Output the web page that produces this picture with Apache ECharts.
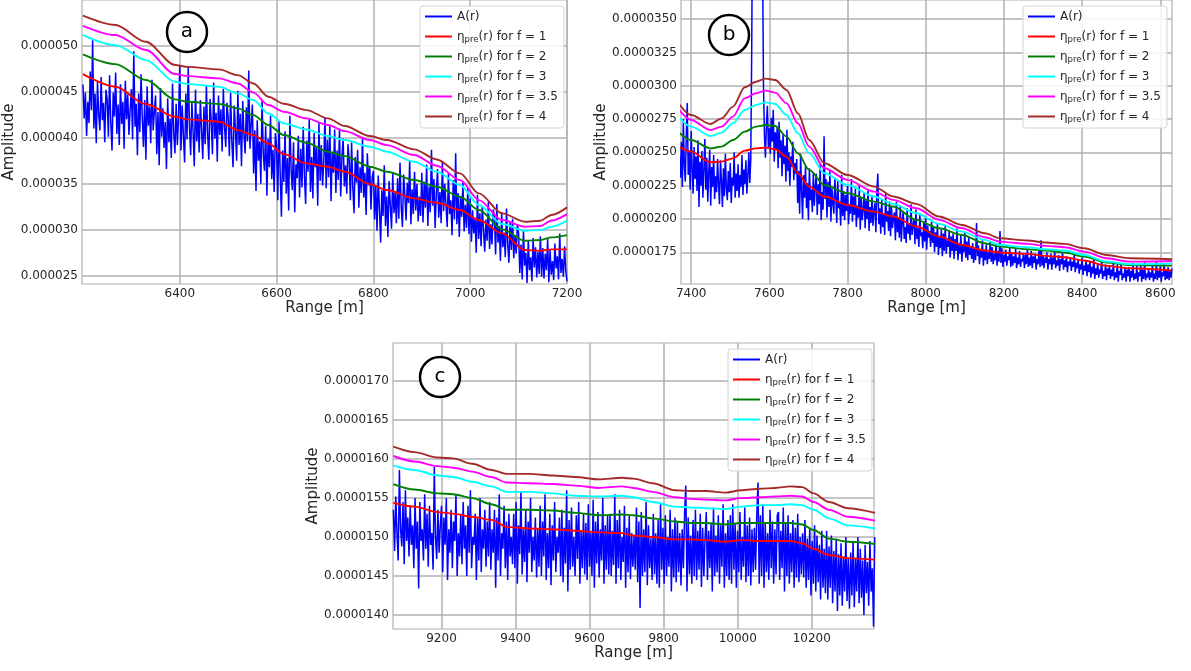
<!DOCTYPE html>
<html><head><meta charset="utf-8">
<script src="https://cdn.jsdelivr.net/npm/echarts@6/dist/echarts.min.js"></script>
<style>html,body{margin:0;padding:0;background:#fff}#c{width:1191px;height:671px}</style>
</head><body><div id="c"></div>
<script>
// All amplitudes in units of 1e-6
// ---------- panel a ----------
const aStart = 6200, aStep = 2.5;
const aSignal = [
45.8,42.1,44.9,40.2,43.9,41.6,47.2,43.0,50.6,41.0,44.8,39.4,46.1,42.5,40.8,46.6,41.9,43.8,39.5,45.2,
44.2,40.1,46.8,41.7,38.6,44.9,42.3,47.1,40.4,43.6,39.2,45.8,41.5,43.9,38.8,46.2,42.0,44.7,40.3,43.1,
45.3,39.8,49.4,41.2,43.7,38.1,44.8,40.6,46.9,42.2,39.0,44.1,37.6,45.6,41.3,43.4,39.4,46.3,40.8,42.9,
44.6,38.2,42.8,37.0,45.4,40.1,43.2,38.9,41.7,36.6,44.3,39.5,42.1,37.8,45.9,40.6,38.3,43.7,39.2,42.4,
47.9,38.6,43.5,40.2,37.3,44.8,39.8,47.8,41.3,38.1,43.9,40.7,36.9,45.2,39.6,42.6,38.4,44.1,40.9,37.7,
43.4,39.3,45.7,40.5,37.6,44.2,41.8,38.2,46.0,39.9,42.7,37.4,44.6,40.3,43.1,38.5,45.3,41.2,39.0,43.8,
42.2,38.0,44.9,39.7,36.8,43.5,40.9,37.5,45.1,39.2,42.6,36.9,44.0,40.4,38.3,43.3,39.6,47.3,38.8,41.5,
43.6,36.1,40.8,34.2,41.9,37.5,39.6,35.0,44.1,38.2,36.4,41.3,33.7,39.9,36.8,42.4,35.5,38.7,34.1,40.5,
39.1,33.2,41.8,36.0,31.4,38.6,35.2,40.7,33.9,37.8,32.1,42.4,36.5,34.3,39.5,31.9,37.1,35.6,40.2,33.5,
38.8,34.6,41.2,35.9,32.8,39.7,36.3,42.0,34.1,37.9,33.4,40.5,36.8,38.9,32.6,41.6,35.3,39.2,34.8,37.4,
42.2,34.5,39.8,35.7,41.4,33.1,38.4,36.2,40.9,34.0,38.6,35.4,41.0,33.6,37.8,39.9,34.7,37.0,33.9,39.3,
37.6,33.2,39.5,34.6,31.8,37.9,35.1,38.7,32.4,36.8,34.0,40.1,33.5,36.2,31.6,38.3,34.8,36.9,32.2,35.7,
36.4,31.1,34.8,29.9,35.9,32.2,28.6,34.3,31.5,37.0,30.4,33.6,29.2,35.3,32.6,30.1,36.1,31.8,34.0,30.7,
35.6,31.2,37.3,32.5,30.3,36.0,33.8,31.0,35.1,32.9,37.5,30.6,34.4,31.7,36.3,32.1,35.0,30.9,33.6,31.5,
36.2,30.8,35.2,32.4,37.1,30.4,34.7,31.9,38.7,32.6,35.5,30.2,33.9,36.6,31.3,34.1,30.7,37.4,32.0,35.0,
34.8,30.3,36.1,31.7,33.2,29.4,35.4,31.1,38.3,30.6,34.0,29.2,33.6,31.4,35.2,29.8,32.7,30.2,34.5,29.5,
33.4,28.7,32.1,29.6,31.3,27.5,33.8,29.0,31.8,28.2,32.6,29.9,27.6,31.1,28.8,33.0,27.9,30.6,28.4,32.2,
31.5,27.3,32.8,28.6,30.4,26.6,31.9,28.1,29.7,27.0,32.3,28.4,26.4,30.9,27.8,31.2,26.9,29.4,27.4,30.6,
29.6,25.3,28.4,24.6,29.9,26.1,27.5,24.2,28.8,25.6,27.0,24.4,29.1,25.9,28.1,24.8,27.6,25.2,29.3,24.9,
28.0,24.7,27.4,25.6,29.0,24.3,27.8,25.1,26.6,24.5,28.5,25.8,27.1,24.6,29.6,25.3,26.8,24.9,28.2,25.5,
24.4];
const aRanges = [6200,6267,6330,6390,6417,6481,6520,6552,6583,6615,6662,6706,6741,6793,6828,6884,6931,6979,7018,7066,7113,7145,7168,7200];
const aF1  = [46.92,45.54,43.66,42.28,41.99,41.74,40.83,40.29,39.38,38.22,37.21,36.85,36.3,34.96,34.31,33.41,32.93,32.14,31.05,29.6,27.79,27.72,27.86,27.86];
const aF2  = [49.06,48.0,46.27,44.17,43.91,43.66,43.19,42.46,41.38,40.29,39.46,38.48,38.0,36.85,36.3,35.4,34.67,33.59,32.14,30.04,28.8,28.88,29.17,29.42];
const aF3  = [51.16,50.07,48.44,46.09,45.83,45.54,44.82,44.1,42.64,41.56,40.9,40.18,39.75,39.02,38.48,37.39,36.3,34.86,32.68,30.62,29.89,29.96,30.33,30.98];
const aF35 = [52.17,51.16,49.53,46.92,46.7,46.45,45.9,44.9,43.55,42.83,42.1,41.38,40.72,39.75,39.2,38.12,36.96,35.4,33.22,31.05,30.33,30.4,31.0,31.7];
const aF4  = [53.26,52.25,50.43,47.9,47.7,47.43,46.8,45.9,44.46,43.7,43.0,42.1,41.27,40.18,39.75,38.73,37.64,36.12,33.95,31.78,30.87,30.98,31.6,32.43];
const aXTicks = [6400,6600,6800,7000,7200];
const aYTicks = [25,30,35,40,45,50];

// ---------- panel b ----------
const bStart = 7370, bStep = 2.5;
const bSignal = [
24.6,23.1,25.8,22.4,27.5,24.0,22.8,26.2,28.7,23.3,25.1,22.2,26.6,23.8,21.9,25.4,23.0,24.7,22.1,25.9,
20.9,24.3,22.5,25.1,21.6,23.7,26.0,22.2,24.6,21.3,23.5,25.2,21.0,23.9,22.4,24.8,21.5,23.2,22.0,24.5,
22.6,21.1,24.4,22.9,20.9,23.8,21.7,24.9,22.3,21.4,23.6,22.0,24.2,21.2,23.1,22.5,25.0,21.6,23.4,22.1,
24.1,21.6,23.3,22.4,24.8,21.8,23.7,22.6,24.4,21.9,23.2,25.0,22.7,24.5,33.0,48.0,60.0,68.0,72.0,66.0,
70.0,64.0,58.0,52.0,46.0,40.0,30.0,26.2,24.6,27.1,28.5,25.4,26.8,24.9,27.6,25.8,28.2,24.3,26.5,25.2,
26.9,23.8,27.3,24.6,25.9,23.2,26.4,24.1,25.5,22.8,26.7,23.6,25.0,22.5,24.7,23.9,25.8,22.9,24.2,23.4,
24.5,21.2,23.6,20.4,24.9,22.1,20.0,23.3,21.6,24.0,20.8,22.7,19.9,23.8,21.4,22.2,20.5,23.5,21.0,22.4,
23.4,20.3,22.6,21.1,24.1,19.9,22.0,20.7,26.2,21.5,23.0,20.1,22.8,20.9,23.6,19.8,22.3,21.2,20.4,23.1,
21.6,19.7,22.9,20.8,21.3,19.5,23.3,20.2,22.1,19.9,21.8,20.6,22.6,19.6,21.1,20.4,23.0,19.8,21.7,20.3,
22.3,19.4,21.0,20.1,22.5,19.2,21.6,19.9,20.7,22.0,19.3,21.4,20.0,22.2,19.1,20.9,19.7,21.8,19.5,20.6,
21.2,19.0,22.1,23.4,19.6,20.8,18.9,21.5,19.4,20.3,18.8,21.9,19.8,20.6,19.1,21.3,18.7,20.9,19.3,20.1,
20.5,18.4,21.3,19.0,20.1,18.6,21.0,18.3,19.8,20.6,18.5,19.4,18.2,20.8,18.9,19.7,18.4,21.1,18.8,19.5,
20.0,18.1,20.7,18.5,19.3,17.9,20.4,18.7,19.0,17.8,19.8,18.3,20.2,17.7,19.5,18.6,19.1,17.9,19.9,18.2,
19.4,17.5,19.0,17.9,19.7,17.3,18.6,17.8,19.2,17.2,18.9,17.6,19.5,17.4,18.4,17.9,19.1,17.1,18.7,17.6,
18.9,17.0,18.5,17.6,19.3,16.9,18.2,17.4,18.8,16.8,18.1,17.5,19.0,17.1,18.3,16.9,18.6,17.3,17.9,17.0,
18.2,16.7,17.8,16.9,19.7,17.2,18.0,16.6,17.6,17.1,18.4,16.5,17.7,16.9,18.1,16.6,17.5,17.0,18.3,16.8,
17.9,16.6,17.4,16.9,18.2,16.5,17.6,16.8,19.1,16.7,17.8,16.4,17.3,16.8,17.7,16.5,17.2,16.9,17.9,16.4,
17.5,16.5,17.2,16.7,17.8,16.3,17.1,16.6,17.6,16.4,17.0,16.8,17.4,16.3,17.3,16.6,17.7,16.4,17.1,16.5,
17.6,16.3,17.2,16.7,17.4,16.2,17.0,16.6,17.7,16.4,18.4,16.5,17.3,16.3,17.1,16.7,17.5,16.2,17.0,16.6,
17.4,16.2,17.1,16.6,17.6,16.3,16.9,16.5,17.3,16.1,17.0,16.6,17.5,16.2,16.9,16.4,17.2,16.0,16.8,16.5,
17.1,16.1,16.8,16.4,17.3,16.0,16.7,16.3,17.0,15.9,16.6,16.2,17.1,15.8,16.5,16.1,16.9,15.7,16.6,16.0,
16.8,15.6,16.4,15.9,17.0,15.5,16.3,15.8,16.7,15.6,16.2,15.9,16.9,15.5,16.1,15.7,16.6,15.4,16.3,15.8,
16.5,15.5,16.2,15.7,16.8,15.4,16.0,15.6,16.6,15.3,16.1,15.8,16.7,15.4,15.9,15.6,16.4,15.3,16.2,15.7,
16.4,15.3,16.1,15.6,16.7,15.4,15.9,15.5,16.5,15.3,16.0,15.7,16.6,15.3,16.2,15.5,16.8,15.4,15.9,15.6,
16.3,15.4,16.0,15.6,16.6,15.3,15.9,15.5,16.8,15.4,16.1,15.6,16.5,15.3,16.0,15.7,16.7,15.4,16.2,15.5,
16.4,15.4,16.1,15.6,16.3];
const bRanges = [7369,7400,7449,7478,7507,7537,7566,7590,7615,7644,7673,7702,7741,7800,7868,7917,7976,8034,8093,8151,8190,8259,8307,8356,8405,8463,8522,8630];
const bF1  = [25.43,25.05,24.25,24.3,24.55,25.13,25.3,25.35,25.23,24.68,23.43,22.43,21.68,21.05,20.55,20.18,19.43,18.68,18.05,17.63,17.48,17.38,17.23,17.13,16.88,16.48,16.3,16.13];
const bF2  = [26.48,25.93,25.3,25.43,25.93,26.55,26.93,27.05,26.98,26.18,24.93,23.68,22.55,21.93,21.3,20.93,19.93,19.3,18.8,18.18,17.93,17.73,17.63,17.48,17.18,16.73,16.55,16.5];
const bF3  = [27.63,26.93,26.23,26.48,27.18,28.18,28.55,28.75,28.63,27.8,26.43,24.93,23.43,22.55,21.68,21.13,20.43,19.63,19.05,18.43,18.05,17.88,17.73,17.63,17.3,16.8,16.6,16.67];
const bF35 = [28.18,27.43,26.68,26.93,27.68,29.05,29.43,29.63,29.48,28.68,27.18,25.43,23.8,22.93,22.05,21.43,20.8,19.93,19.3,18.63,18.3,18.13,17.98,17.88,17.55,17.05,16.8,16.85];
const bF4  = [28.63,27.8,27.13,27.55,28.43,29.88,30.3,30.53,30.43,29.68,27.93,25.93,24.18,23.3,22.43,21.68,21.13,20.18,19.55,18.93,18.55,18.38,18.23,18.13,17.8,17.3,17.05,16.98];
const bXTicks = [7400,7600,7800,8000,8200,8400,8600];
const bYTicks = [17.5,20,22.5,25,27.5,30,32.5,35];

// ---------- panel c ----------
const cStart = 9070, cStep = 3.25;
const cSignal = [
15.35,14.82,15.52,15.05,14.7,15.86,15.1,14.88,15.45,14.65,15.6,14.95,15.25,14.75,15.4,14.9,15.15,14.6,15.5,14.85,
15.2,14.34,15.45,14.95,15.1,14.7,15.55,14.85,15.3,14.62,15.4,14.9,15.05,14.58,15.9,15.0,14.72,15.35,14.8,15.15,
15.4,14.55,15.25,14.9,15.5,14.45,15.1,14.8,15.35,14.6,15.2,14.95,15.55,14.5,15.05,14.75,15.3,14.65,15.45,14.85,
15.15,14.5,15.4,14.8,15.6,14.6,15.0,14.9,15.3,14.45,15.25,14.7,15.5,14.55,15.1,14.85,15.35,14.62,15.2,14.75,
15.45,14.58,15.1,14.8,15.35,14.35,15.25,14.7,15.55,14.5,15.05,14.85,15.4,14.6,15.2,14.45,15.3,14.75,15.0,14.65,
15.3,14.6,15.45,14.4,15.15,14.78,15.58,14.52,15.1,14.68,15.35,14.42,15.2,14.8,15.5,14.55,15.0,14.7,15.25,14.48,
15.1,14.62,15.4,14.5,15.2,14.75,15.55,14.45,15.05,14.6,15.3,14.38,15.15,14.7,15.45,14.55,15.0,14.8,15.25,14.5,
15.35,14.42,15.12,14.66,15.6,14.3,15.22,14.58,15.38,14.62,15.0,14.5,15.28,14.72,15.45,14.4,15.08,14.6,15.3,14.52,
15.18,14.45,15.42,14.62,15.05,14.5,15.48,14.35,15.2,14.66,15.32,14.48,15.1,14.7,15.5,14.4,15.15,14.58,15.28,14.52,
15.3,14.5,15.08,14.64,15.55,14.4,15.22,14.6,15.35,14.45,15.0,14.68,15.4,14.35,15.12,14.55,15.28,14.46,15.05,14.62,
15.02,14.58,15.38,14.42,15.2,14.09,15.32,14.5,15.1,14.55,15.45,14.38,15.15,14.6,14.98,14.45,15.3,14.52,15.05,14.4,
15.22,14.35,15.42,14.58,15.12,14.4,15.28,14.5,15.0,14.62,15.35,14.3,15.1,14.48,15.25,14.42,15.2,14.55,15.05,14.38,
15.1,14.6,15.3,15.66,14.3,15.25,14.52,15.02,14.4,15.22,14.5,15.35,14.45,15.08,14.58,15.3,14.36,15.12,14.5,14.98,
15.32,14.45,15.08,14.6,15.18,14.3,15.38,14.5,15.02,14.55,15.28,14.4,15.15,14.62,15.42,14.35,15.05,14.5,15.22,14.45,
15.28,14.4,15.42,14.58,15.18,14.35,15.08,14.55,15.32,14.45,15.0,14.62,15.38,14.42,15.15,14.5,15.25,14.38,15.1,14.55,
15.12,14.58,15.3,15.7,14.4,15.28,14.5,15.42,14.35,15.18,14.55,15.05,14.45,15.35,14.6,15.2,14.4,15.1,14.52,15.28,
15.32,14.45,15.08,14.6,15.38,14.3,15.18,14.5,15.28,14.4,15.05,14.55,15.22,14.35,15.12,14.48,15.3,14.42,15.0,14.52,
15.05,14.48,15.22,14.35,14.98,14.45,15.12,14.25,14.95,14.4,15.15,14.3,15.02,14.42,14.9,14.2,15.08,14.35,14.85,14.28,
15.08,14.2,14.88,14.35,15.02,14.15,14.82,14.3,14.98,14.05,14.78,14.25,14.92,14.12,14.75,14.3,15.0,14.18,14.72,14.08,
14.8,14.25,14.95,14.1,14.72,14.3,15.0,14.15,14.85,14.22,14.7,14.0,14.9,14.28,14.68,14.12,14.95,14.3,14.6,13.85,
15.0];
const cRanges = [9070,9127,9190,9231,9283,9335,9376,9438,9500,9563,9625,9687,9718,9770,9832,9873,9915,9967,10008,10060,10101,10143,10174,10205,10246,10298,10371];
const cF1  = [15.44,15.39,15.32,15.3,15.26,15.22,15.13,15.11,15.1,15.08,15.06,15.05,15.02,15.0,14.97,14.97,14.96,14.94,14.96,14.95,14.95,14.95,14.92,14.85,14.77,14.73,14.71];
const cF2  = [15.68,15.61,15.56,15.55,15.5,15.42,15.35,15.35,15.34,15.31,15.28,15.29,15.28,15.24,15.2,15.18,15.18,15.16,15.18,15.18,15.18,15.18,15.16,15.09,14.98,14.94,14.91];
const cF3  = [15.92,15.86,15.79,15.77,15.71,15.65,15.58,15.58,15.56,15.53,15.52,15.53,15.51,15.45,15.39,15.38,15.37,15.36,15.39,15.41,15.41,15.42,15.41,15.35,15.24,15.15,15.11];
const cF35 = [16.04,15.97,15.91,15.89,15.84,15.77,15.7,15.69,15.68,15.66,15.63,15.65,15.63,15.58,15.51,15.49,15.48,15.47,15.5,15.51,15.52,15.53,15.52,15.45,15.35,15.26,15.21];
const cF4  = [16.16,16.09,16.02,16.01,15.94,15.86,15.81,15.81,15.79,15.77,15.74,15.76,15.75,15.69,15.6,15.59,15.59,15.57,15.6,15.62,15.63,15.65,15.64,15.56,15.45,15.37,15.31];
const cXTicks = [9200,9400,9600,9800,10000,10200];
const cYTicks = [14,14.5,15,15.5,16,16.5,17];

const fLevels = ['1','2','3','3.5','4'];
const seriesColors = {A:'#0000ff','1':'#ff0000','2':'#008000','3':'#00ffff','3.5':'#ff00ff','4':'#a52a2a'};

// ---------- build ----------
const FONT = 'DejaVu Sans';
const TXT = '#262626';
const GRIDC = '#b0b0b0';

const panels = [
  {key:'a', start:aStart, step:aStep, signal:aSignal, ranges:aRanges, f:[aF1,aF2,aF3,aF35,aF4],
   xmin:6198, xmax:7200, ymin:24.1, ymax:54.97, xt:aXTicks, yt:aYTicks, dec:6,
   grid:{left:82, top:0, width:485, height:284}, nameGapY:61, legend:{left:420, top:6}},
  {key:'b', start:bStart, step:bStep, signal:bSignal, ranges:bRanges, f:[bF1,bF2,bF3,bF35,bF4],
   xmin:7374, xmax:8630, ymin:15.12, ymax:36.43, xt:bXTicks, yt:bYTicks, dec:7,
   grid:{left:681, top:0, width:491, height:284}, nameGapY:70, legend:{left:1023, top:6}},
  {key:'c', start:cStart, step:cStep, signal:cSignal, ranges:cRanges, f:[cF1,cF2,cF3,cF35,cF4],
   xmin:9069, xmax:10368, ymin:13.82, ymax:17.49, xt:cXTicks, yt:cYTicks, dec:7,
   grid:{left:393, top:343, width:481, height:286}, nameGapY:68, legend:{left:728, top:349}}
];

const grids = [], xAxes = [], yAxes = [], series = [], legends = [];
panels.forEach((p, i) => {
  grids.push(Object.assign({show:true, borderColor:GRIDC, borderWidth:1.2, containLabel:false}, p.grid));
  xAxes.push({
    gridIndex:i, type:'value', min:p.xmin, max:p.xmax,
    axisLine:{show:false}, axisTick:{show:false, customValues:p.xt},
    axisLabel:{customValues:p.xt, fontSize:12, color:TXT, fontFamily:FONT, margin:4, formatter: v => String(v)},
    splitLine:{show:true, lineStyle:{color:GRIDC, width:1.5}},
    name:'Range [m]', nameLocation:'middle', nameGap:17,
    nameTextStyle:{fontSize:15, color:TXT, fontFamily:FONT}
  });
  yAxes.push({
    gridIndex:i, type:'value', min:p.ymin, max:p.ymax,
    axisLine:{show:false}, axisTick:{show:false, customValues:p.yt},
    axisLabel:{customValues:p.yt, fontSize:12, color:TXT, fontFamily:FONT, margin:4,
      formatter: v => (v*1e-6).toFixed(p.dec)},
    splitLine:{show:true, lineStyle:{color:GRIDC, width:1.5}},
    name:'Amplitude', nameLocation:'middle', nameGap:p.nameGapY, nameRotate:90,
    nameTextStyle:{fontSize:15, color:TXT, fontFamily:FONT}
  });
  const names = [];
  const sig = p.signal.map((v, k) => [p.start + k*p.step, v]);
  names.push(p.key+':A');
  series.push({name:p.key+':A', type:'line', xAxisIndex:i, yAxisIndex:i, data:sig,
    showSymbol:false, symbol:'none', sampling:null, lineStyle:{color:seriesColors.A, width:1.5}, itemStyle:{color:seriesColors.A},
    animation:false, silent:true, z:2});
  fLevels.forEach((f, j) => {
    names.push(p.key+':'+f);
    series.push({name:p.key+':'+f, type:'line', xAxisIndex:i, yAxisIndex:i,
      data:p.ranges.map((r, k) => [r, p.f[j][k]]),
      showSymbol:false, symbol:'none', smooth:0.3, smoothMonotone:'x',
      lineStyle:{color:seriesColors[f], width:1.9}, itemStyle:{color:seriesColors[f]},
      animation:false, silent:true, z:3});
  });
  legends.push({
    data:names, left:p.legend.left, top:p.legend.top, orient:'vertical',
    icon:'rect', itemWidth:27, itemHeight:2, itemGap:5, padding:[3,6,4,5],
    backgroundColor:'rgba(255,255,255,0.85)', borderColor:'#d4d4d4', borderWidth:1, borderRadius:3,
    selectedMode:false,
    formatter: n => {
      const f = n.split(':')[1];
      return f === 'A' ? '{n|A(r)}' : '{n|η}{s|pre}{n|(r) for f = ' + f + '}';
    },
    textStyle:{fontSize:12, color:TXT, fontFamily:FONT, lineHeight:15,
      rich:{n:{fontSize:12, lineHeight:15, color:TXT, fontFamily:FONT},
            s:{fontSize:8.5, lineHeight:9, verticalAlign:'bottom', color:TXT, fontFamily:FONT}}}
  });
});

const labels = [{t:'a', x:187, y:32}, {t:'b', x:729, y:35}, {t:'c', x:440, y:377}];
const graphic = [];
labels.forEach(l => {
  graphic.push({type:'circle', shape:{cx:l.x, cy:l.y, r:20}, style:{fill:'#fff', stroke:'#000', lineWidth:2.5}, z:100});
  graphic.push({type:'text', x:l.x, y:l.y, style:{text:l.t, font:'20px "DejaVu Sans"', fill:'#000', align:'center', verticalAlign:'middle'}, z:101});
});

const chart = echarts.init(document.getElementById('c'), null, {renderer:'canvas'});
chart.setOption({
  backgroundColor:'#fff', animation:false,
  grid:grids, xAxis:xAxes, yAxis:yAxes, series:series, legend:legends, graphic:graphic
});
</script></body></html>
